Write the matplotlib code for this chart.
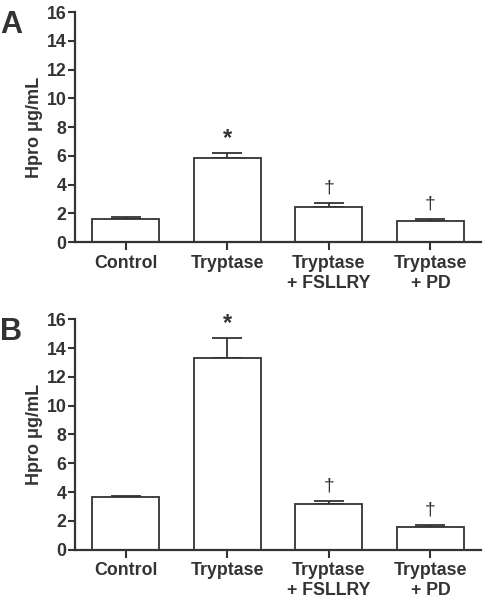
import matplotlib.pyplot as plt

plt.rcParams['font.family'] = ['Liberation Sans', 'DejaVu Sans']
plt.rcParams['font.weight'] = 'bold'
plt.rcParams['axes.labelweight'] = 'bold'

labels = ["Control", "Tryptase", "Tryptase\n+ FSLLRY", "Tryptase\n+ PD"]
mean_a = [1.63, 5.85, 2.47, 1.50]
sem_a = [0.15, 0.34, 0.23, 0.08]
mean_b = [3.66, 13.3, 3.2, 1.55]
sem_b = [0.07, 1.42, 0.18, 0.14]
marks_a = ["", "*", "\u2020", "\u2020"]
marks_b = ["", "*", "\u2020", "\u2020"]

ink = "#333333"
x = list(range(len(labels)))

fig = plt.figure(figsize=(4.87, 6.01), dpi=100)
ax_a = fig.add_axes([0.154, 0.597, 0.834, 0.383])
ax_b = fig.add_axes([0.154, 0.0854, 0.834, 0.3833])


def draw(ax, means, sems, marks, letter):
    ax.bar(x, means, 0.66, color="white", edgecolor=ink, linewidth=1.3, zorder=2)
    ax.errorbar(x, means, yerr=[[0] * len(sems), sems], fmt="none",
                ecolor=ink, elinewidth=1.3, capsize=11, capthick=1.3, zorder=1)
    for i, m in enumerate(marks):
        if not m:
            continue
        top = means[i] + sems[i]
        if m == "*":
            ax.annotate(m, xy=(i, top), xytext=(0, 2), textcoords="offset points",
                        ha="center", va="bottom", fontsize=17, color=ink)
        else:
            ax.annotate(m, xy=(i, top), xytext=(0, 5), textcoords="offset points",
                        ha="center", va="bottom", fontsize=14, color=ink,
                        fontweight="normal")
    ax.set_xlim(-0.5, 3.5)
    ax.set_ylim(0, 16)
    ax.set_yticks(range(0, 17, 2))
    ax.set_xticks(x)
    ax.set_xticklabels(labels, fontsize=12.8, color=ink, linespacing=1.25)
    ax.tick_params(axis="y", labelsize=12.8, colors=ink, length=5, width=1.5, pad=1)
    ax.tick_params(axis="x", length=6, width=1.5, colors=ink, pad=3)
    for s in ["top", "right"]:
        ax.spines[s].set_visible(False)
    for s in ["left", "bottom"]:
        ax.spines[s].set_linewidth(1.6)
        ax.spines[s].set_color(ink)
    ax.set_ylabel("Hpro \u03bcg/mL", fontsize=13, color=ink, labelpad=3)
    ax.text(-0.185, 1.01, letter, transform=ax.transAxes, fontsize=22,
            fontweight="bold", color=ink, ha="left", va="top")


draw(ax_a, mean_a, sem_a, marks_a, "A")
draw(ax_b, mean_b, sem_b, marks_b, "B")

fig.savefig("out.png", dpi=100)
